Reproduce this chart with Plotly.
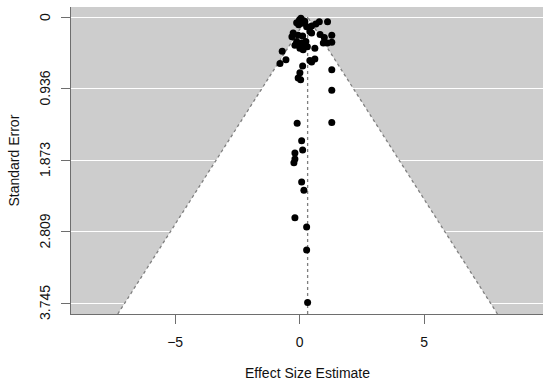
import plotly.graph_objects as go

# Effect size estimates and standard errors
effect = [0.05, -0.12, 0.08, 0.21, 0.28, 0.48, 0.65, 0.79, 1.12, 0.41,
          0.48, -0.26, -0.06, 0.12, 0.82, 0.99, 1.29, -0.12, 0.08, 0.25,
          -0.19, 0.01, 0.14, 0.31, 0.61, 0.95, 1.11, 1.29, -0.70, -0.55,
          -0.79, 0.12, 0.48, 0.61, 0.41, 0.01, -0.06, 0.04, 1.29, 1.29,
          -0.10, 1.29, 0.08, 0.12, -0.19, -0.19, -0.23, 0.08, 0.17, -0.19,
          0.28, 0.28, 0.32, -0.01, -0.31, 0.19, -0.07, -0.04, 0.16]
std_err = [0.017, 0.075, 0.083, 0.062, 0.127, 0.118, 0.092, 0.062, 0.062, 0.19,
           0.21, 0.21, 0.24, 0.25, 0.23, 0.27, 0.24, 0.32, 0.34, 0.32,
           0.37, 0.41, 0.43, 0.39, 0.41, 0.34, 0.34, 0.33, 0.45, 0.56,
           0.61, 0.64, 0.59, 0.55, 0.57, 0.73, 0.80, 0.82, 0.69, 0.96,
           1.39, 1.38, 1.62, 1.74, 1.78, 1.86, 1.91, 2.16, 2.27, 2.63,
           2.75, 3.05, 3.74, 0.04, 0.26, 0.39, 0.35, 0.10, 0.05]

pooled_estimate = 0.32
y_ticks = [0, 0.936, 1.873, 2.809, 3.745]
y_tick_labels = ["0", "0.936", "1.873", "2.809", "3.745"]
x_ticks = [-5, 0, 5]
x_tick_labels = ["\u22125", "0", "5"]

y_bottom = 3.889
y_top = -0.131
x_range = [-9.18, 9.77]

z = 1.96
left_x = pooled_estimate - z * y_bottom
right_x = pooled_estimate + z * y_bottom

fig = go.Figure()

# white funnel region
fig.add_trace(go.Scatter(
    x=[left_x, pooled_estimate, right_x, left_x],
    y=[y_bottom, 0, y_bottom, y_bottom],
    mode="lines", fill="toself", fillcolor="white",
    line=dict(width=0), hoverinfo="skip", showlegend=False))

# funnel edges
fig.add_trace(go.Scatter(
    x=[left_x, pooled_estimate, right_x],
    y=[y_bottom, 0, y_bottom],
    mode="lines", line=dict(color="#7f7f7f", width=1.3, dash="dot"),
    hoverinfo="skip", showlegend=False))

# centre line
fig.add_trace(go.Scatter(
    x=[pooled_estimate, pooled_estimate],
    y=[0, y_bottom],
    mode="lines", line=dict(color="#7f7f7f", width=1.3, dash="dot"),
    hoverinfo="skip", showlegend=False))

# studies
fig.add_trace(go.Scatter(
    x=effect, y=std_err, mode="markers",
    marker=dict(color="black", size=7, line=dict(width=0)),
    showlegend=False))

font = dict(family="Liberation Sans, Arial, sans-serif", size=14, color="#111")

# rotated y tick labels, placed on the y axis scale
annotations = [
    dict(text=lab, x=0, xref="paper", y=val, yref="y", xanchor="center",
         yanchor="middle", xshift=-26, textangle=-90, showarrow=False, font=font)
    for val, lab in zip(y_ticks, y_tick_labels)
]
annotations.append(dict(text="Standard Error", x=0, xref="paper", y=0.5, yref="paper",
                        xanchor="center", yanchor="middle", xshift=-58,
                        textangle=-90, showarrow=False, font=font))
annotations.append(dict(text="Effect Size Estimate", x=0.5, xref="paper", y=0,
                        yref="paper", xanchor="center", yanchor="middle",
                        yshift=-59, showarrow=False, font=font))

fig.update_layout(
    width=550, height=385,
    margin=dict(l=71, r=7, t=7, b=71),
    paper_bgcolor="white", plot_bgcolor="#cdcdcd",
    font=font,
    annotations=annotations,
    xaxis=dict(range=x_range, tickvals=x_ticks, ticktext=x_tick_labels,
               automargin=False,
               showgrid=False, zeroline=False, showline=True,
               linecolor="#6e6e6e", linewidth=1,
               ticks="outside", ticklen=9, tickcolor="#6e6e6e",
               ticklabelstandoff=6, tickfont=font),
    yaxis=dict(range=[y_bottom, y_top], tickvals=y_ticks, showticklabels=False,
               automargin=False,
               showgrid=True, gridcolor="white", gridwidth=1.3,
               zeroline=False, showline=True,
               linecolor="#6e6e6e", linewidth=1,
               ticks="outside", ticklen=9, tickcolor="#6e6e6e"),
)

fig.write_html("out.html", config={"displayModeBar": False},
               post_script="document.body.style.margin='0';document.body.style.padding='0';")
